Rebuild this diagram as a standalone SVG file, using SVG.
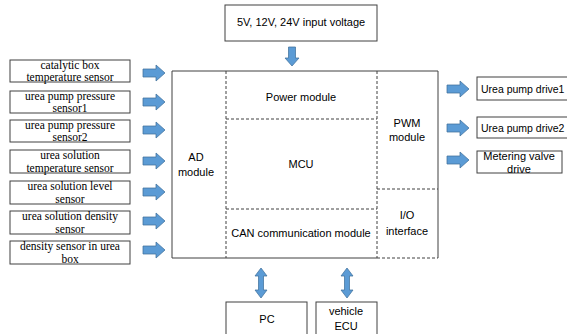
<svg xmlns="http://www.w3.org/2000/svg" width="567" height="334" viewBox="0 0 567 334">
<defs>
<style>
.box{fill:#fff;stroke:#404040;stroke-width:1}
.dash{fill:none;stroke:#404040;stroke-width:1;stroke-dasharray:3,2}
.ser{font-family:"Liberation Serif","Times New Roman",serif;font-size:11.5px;fill:#000;text-anchor:middle}
.san{font-family:"Liberation Sans",Arial,sans-serif;font-size:11px;fill:#000;text-anchor:middle}
.st{text-anchor:start;font-size:10.5px}
.arr{fill:#5B9BD5;stroke:#41719C;stroke-width:0.75}
</style>
<path id="ra" class="arr" d="M0,-4 H13 V-8 L22,0 L13,8 V4 H0 Z"/>
<path id="da" class="arr" d="M-3.5,0 H3.5 V11 H7 L0,19 L-7,11 H-3.5 Z"/>
<path id="va" class="arr" d="M0,0 L6,8 H2.5 V22 H6 L0,30 L-6,22 H-2.5 V8 H-6 Z"/>
</defs>
<rect width="567" height="334" fill="#fff"/>

<g id="connectors">
<use href="#da" x="292" y="47"/>
<use href="#ra" x="143" y="73"/>
<use href="#ra" x="143" y="102"/>
<use href="#ra" x="143" y="130"/>
<use href="#ra" x="143" y="161"/>
<use href="#ra" x="143" y="192"/>
<use href="#ra" x="143" y="221"/>
<use href="#ra" x="143" y="250"/>
<use href="#ra" x="447" y="89"/>
<use href="#ra" x="447" y="128"/>
<use href="#ra" x="447" y="160"/>
<use href="#va" x="261" y="268"/>
<use href="#va" x="347" y="268"/>
</g>

<g id="input">
<rect class="box" x="225" y="5" width="152" height="36"/>
<text class="san" x="301" y="26">5V, 12V, 24V input voltage</text>
</g>

<g id="controller">
<path class="box" d="M377,258 H172 V71 H438 V258"/>
<path class="dash" d="M226,71 V258 M377,71 V258 M226,119 H377 M226,209 H377 M377,189 H438 M377,258 H438"/>
</g>
<g id="ad"><text class="san" x="196" y="161">AD</text><text class="san" x="196" y="176">module</text></g>
<g id="power"><text class="san" x="301" y="101">Power module</text></g>
<g id="mcu"><text class="san" x="301" y="168">MCU</text></g>
<g id="can"><text class="san" x="301" y="237">CAN communication module</text></g>
<g id="pwm"><text class="san" x="407" y="127">PWM</text><text class="san" x="407" y="141">module</text></g>
<g id="io"><text class="san" x="407" y="219">I/O</text><text class="san" x="407" y="235">interface</text></g>

<g id="s1"><rect class="box" x="10" y="60" width="120" height="22"/><text class="ser" x="70" y="69">catalytic box</text><text class="ser" x="70" y="81">temperature sensor</text></g>
<g id="s2"><rect class="box" x="10" y="91" width="120" height="22"/><text class="ser" x="70" y="100">urea pump pressure</text><text class="ser" x="70" y="112">sensor1</text></g>
<g id="s3"><rect class="box" x="10" y="120" width="120" height="22"/><text class="ser" x="70" y="129">urea pump pressure</text><text class="ser" x="70" y="141">sensor2</text></g>
<g id="s4"><rect class="box" x="10" y="150" width="120" height="23"/><text class="ser" x="70" y="159">urea solution</text><text class="ser" x="70" y="172">temperature sensor</text></g>
<g id="s5"><rect class="box" x="10" y="181" width="120" height="23"/><text class="ser" x="70" y="190">urea solution level</text><text class="ser" x="70" y="203">sensor</text></g>
<g id="s6"><rect class="box" x="10" y="211" width="120" height="23"/><text class="ser" x="70" y="220">urea solution density</text><text class="ser" x="70" y="233">sensor</text></g>
<g id="s7"><rect class="box" x="10" y="241" width="120" height="23"/><text class="ser" x="70" y="250">density sensor in urea</text><text class="ser" x="70" y="263">box</text></g>

<g id="d1"><rect class="box" x="477" y="77" width="100" height="23"/><text class="san st" x="481" y="93">Urea pump drive1</text></g>
<g id="d2"><rect class="box" x="477" y="117" width="100" height="21"/><text class="san st" x="481" y="132">Urea pump drive2</text></g>
<g id="d3"><rect class="box" x="477" y="151" width="85" height="22"/><text class="san" x="519" y="160">Metering valve</text><text class="san" x="519" y="173">drive</text></g>

<g id="pc"><rect class="box" x="226" y="302" width="81" height="40"/><text class="san" x="267" y="323">PC</text></g>
<g id="ecu"><rect class="box" x="316" y="302" width="61" height="40"/><text class="san" x="346" y="315">vehicle</text><text class="san" x="346" y="330">ECU</text></g>
</svg>
